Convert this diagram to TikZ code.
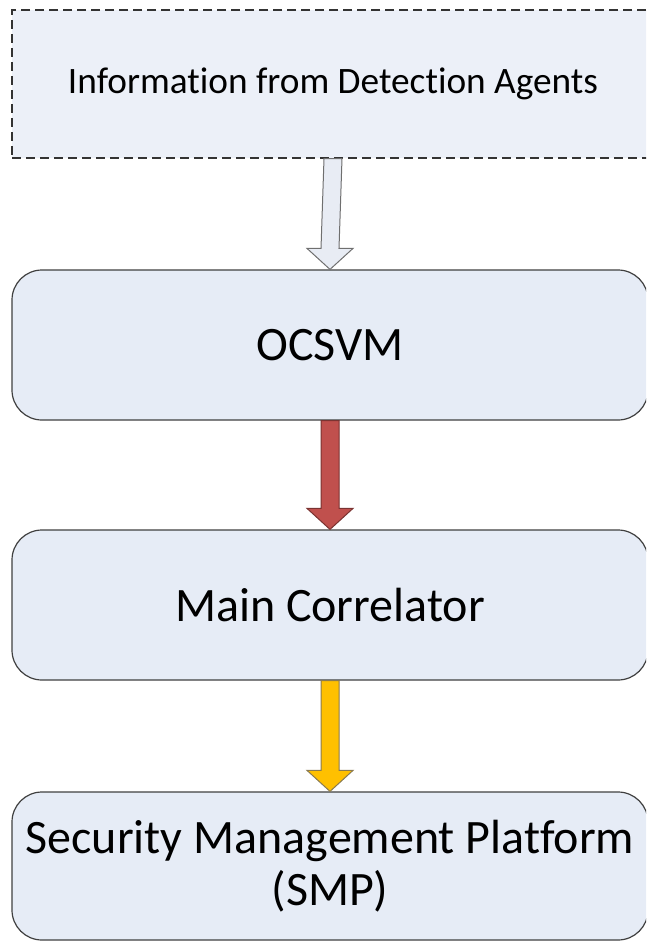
\documentclass[tikz,border=0pt]{standalone}
\usepackage{fontspec}
\setmainfont[Ligatures=NoCommon]{Carlito}
\usetikzlibrary{calc}
\definecolor{boxfill}{HTML}{E6ECF6}
\definecolor{infofill}{HTML}{ECF0F8}
\definecolor{boxline}{HTML}{404040}
\definecolor{redfill}{HTML}{C0504D}
\definecolor{redline}{HTML}{7A3331}
\definecolor{goldfill}{HTML}{FFC000}
\definecolor{goldline}{HTML}{8A7A50}
\definecolor{lightfill}{HTML}{E8ECF4}
\definecolor{lightline}{HTML}{6F6F6F}
\newcommand\fatarrow[3]{%
  \draw[#1] ($(#2)+(-9,0)$) -- ($(#3)+(-9,-21)$) -- ($(#3)+(-23,-21)$) -- (#3)
    -- ($(#3)+(23,-21)$) -- ($(#3)+(9,-21)$) -- ($(#2)+(9,0)$) -- cycle;}
\tikzset{
  box/.style={draw=boxline, line width=1.2pt, fill=boxfill, rounded corners=30pt,
    minimum width=636pt, minimum height=150pt, inner sep=0pt, align=center,
    font=\fontsize{48}{52}\selectfont},
  infobox/.style={draw=black!80, line width=1.2pt, dash pattern=on 9pt off 5pt,
    fill=infofill, minimum width=642pt, minimum height=148pt, inner sep=0pt,
    font=\fontsize{37.3}{42}\selectfont},
  arrowlight/.style={fill=lightfill, draw=lightline, line width=1pt, line join=miter},
  arrowred/.style={fill=redfill, draw=redline, line width=1pt, line join=miter},
  arrowgold/.style={fill=goldfill, draw=goldline, line width=1pt, line join=miter}
}
\begin{document}
\begin{tikzpicture}[x=1pt, y=-1pt]
\useasboundingbox (0,0) rectangle (646,943);
\clip (0,0) rectangle (646,943);
\node[infobox] (info) at (333,84) {Information from Detection Agents};
\node[box] (ocsvm) at (330,345) {OCSVM};
\node[box] (corr) at (330,605) {Main Correlator};
\node[box, minimum height=148pt] (smp) at (330,866) {Security Management Platform\\(SMP)};
\fatarrow{arrowlight}{info.south}{ocsvm.north}
\fatarrow{arrowred}{ocsvm.south}{corr.north}
\fatarrow{arrowgold}{corr.south}{smp.north}
\end{tikzpicture}
\end{document}
